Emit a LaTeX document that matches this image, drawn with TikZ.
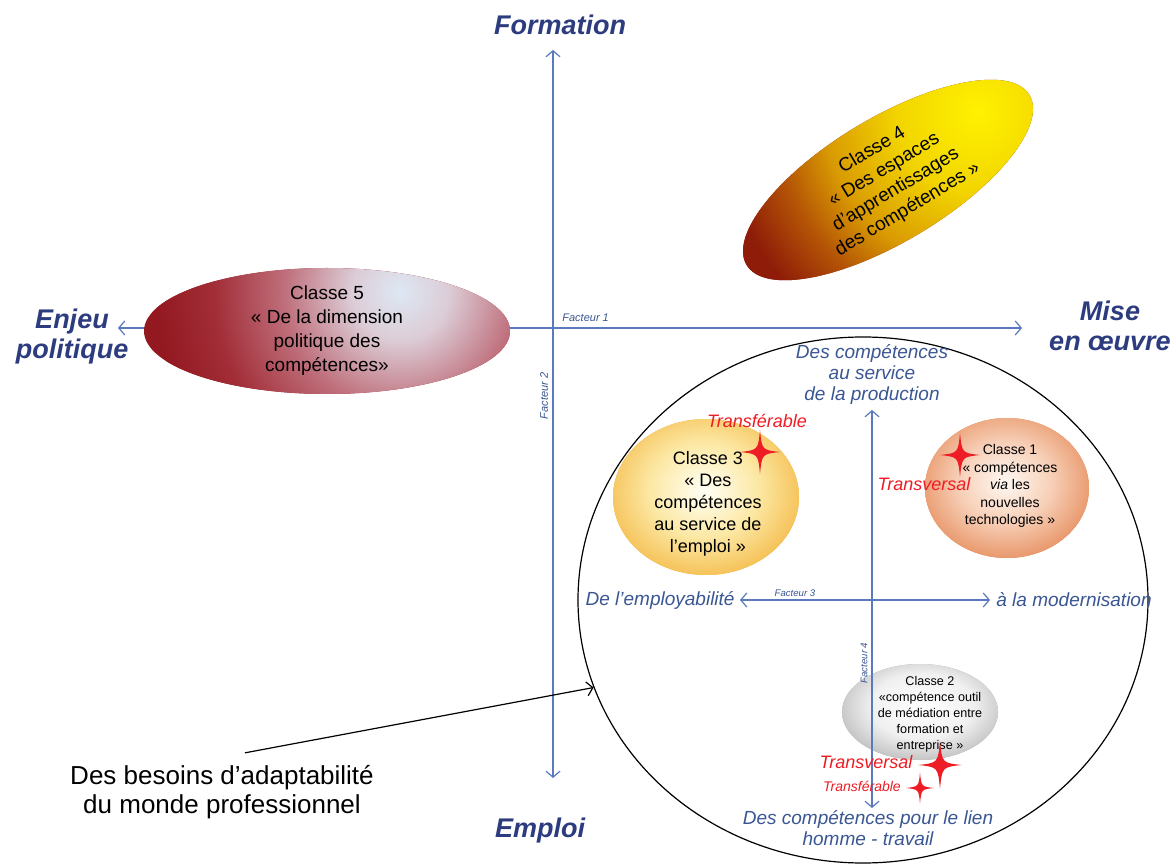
\documentclass[tikz,border=0pt]{standalone}
\usepackage{fontspec}
\setmainfont{Liberation Sans}
\usetikzlibrary{shapes.geometric,arrows.meta,calc}

\definecolor{axisblue}{HTML}{5B79BF}
\definecolor{labelblue}{HTML}{3A5693}
\definecolor{headblue}{HTML}{2C3C7E}
\definecolor{starred}{HTML}{EE1C24}
\definecolor{c5a}{HTML}{DDE8F4}
\definecolor{c5b}{HTML}{DCCCD6}
\definecolor{c5c}{HTML}{BE6E7A}
\definecolor{c5d}{HTML}{A22E38}
\definecolor{c5e}{HTML}{931820}
\definecolor{c4a}{HTML}{FFF200}
\definecolor{c4b}{HTML}{F2D400}
\definecolor{c4c}{HTML}{D99A02}
\definecolor{c4d}{HTML}{B45406}
\definecolor{c4e}{HTML}{8E1C08}
\definecolor{c3a}{HTML}{FFFFF6}
\definecolor{c3b}{HTML}{FCE8A4}
\definecolor{c3c}{HTML}{F1AC2C}
\definecolor{c1a}{HTML}{FFF8F3}
\definecolor{c1b}{HTML}{F7D0B8}
\definecolor{c1c}{HTML}{E3834F}
\definecolor{c2a}{HTML}{FFFFFF}
\definecolor{c2b}{HTML}{F0F0F0}
\definecolor{c2c}{HTML}{A9A9A9}

\pgfdeclareradialshading{shadeCfive}{\pgfpoint{0bp}{0bp}}{color(0bp)=(c5a); color(5bp)=(c5b); color(12bp)=(c5c); color(19bp)=(c5d); color(25bp)=(c5e); color(50bp)=(c5e)}
\pgfdeclareradialshading{shadeCfour}{\pgfpoint{0bp}{0bp}}{color(0bp)=(c4a); color(6.2bp)=(c4b); color(11.6bp)=(c4c); color(15.4bp)=(c4d); color(19.5bp)=(c4e); color(50bp)=(c4e)}
\pgfdeclareradialshading{shadeCthree}{\pgfpoint{0bp}{0bp}}{color(0bp)=(c3a); color(11bp)=(c3b); color(25bp)=(c3c); color(50bp)=(c3c)}
\pgfdeclareradialshading{shadeCone}{\pgfpoint{0bp}{0bp}}{color(0bp)=(c1a); color(11bp)=(c1b); color(25bp)=(c1c); color(50bp)=(c1c)}
\pgfdeclareradialshading{shadeCtwo}{\pgfpoint{0bp}{0bp}}{color(0bp)=(c2a); color(12bp)=(c2b); color(25bp)=(c2c); color(50bp)=(c2c)}

\tikzset{
  >={Straight Barb[length=3pt,width=7pt]},
  axis/.style={draw=axisblue, line width=0.6pt},
  head/.style={font=\bfseries\itshape\fontsize{13.5}{15}\selectfont, text=headblue, align=center, inner sep=0pt},
  pole/.style={font=\itshape\fontsize{9.5}{10.5}\selectfont, text=labelblue, align=center, inner sep=0pt},
  fact/.style={font=\itshape\fontsize{5.5}{6}\selectfont, text=labelblue, inner sep=0pt},
  classe/.style={ellipse, align=center, inner sep=0pt, text=black},
  redlab/.style={font=\itshape\fontsize{9}{10}\selectfont, text=starred, inner sep=0pt},
  etoile/.pic={\fill[starred] (0,-22) .. controls (2,-2) .. (20,0) .. controls (2,2) .. (0,22) .. controls (-2,2) .. (-20,0) .. controls (-2,-2) .. (0,-22) -- cycle;}
}

\begin{document}
\begin{tikzpicture}[x=0.5pt,y=-0.5pt]
\fill[white] (0,0) rectangle (1173,865);
\useasboundingbox (0,0) rectangle (1173,865);

% Facteur 1 axis (behind Classe 5)
\coordinate (f1w) at (118,328);
\coordinate (f1e) at (1022,328);
\draw[axis,<->] (f1w) -- (f1e);

% Facteur 2 axis
\coordinate (f2n) at (553,50);
\coordinate (f2s) at (553,778);
\draw[axis,<->] (f2n) -- (f2s);

% Classe 5
\begin{scope}
  \clip (327,331) ellipse (91.5pt and 31.5pt);
  \fill[c5e] (327,331) ellipse (92pt and 32pt);
  \shade[shading=shadeCfive] (400,292) circle (122pt);
\end{scope}
\node[classe, minimum width=183pt, minimum height=63pt, font=\fontsize{9.5}{12}\selectfont] (c5) at (327,331)
  {Classe 5\\« De la dimension\\politique des\\compétences»};

% Classe 4
\begin{scope}[rotate around={31:(888,180)}]
  \clip (888,180) ellipse (82.5pt and 31pt);
  \fill[c4e] (888,180) ellipse (83pt and 32pt);
  \shade[shading=shadeCfour] (1000,168) circle (145pt);
\end{scope}
\node[classe, rotate=31, minimum width=165pt, minimum height=62pt, font=\fontsize{9.5}{11.5}\selectfont] (c4) at (890,180)
  {Classe 4\\« Des espaces\\d'apprentissages\\des compétences »};

% big circle
\node[draw=black, line width=0.6pt, ellipse, minimum width=285pt, minimum height=263pt] (cercle) at (863,600) {};

% Classe 3
\begin{scope}
  \clip (706,497) ellipse (46.5pt and 39pt);
  \fill[c3c] (706,497) ellipse (47pt and 40pt);
  \shade[shading=shadeCthree] (704,490) ellipse (62pt and 54pt);
\end{scope}
\node[classe, minimum width=93pt, minimum height=78pt, font=\fontsize{9}{11}\selectfont] (c3) at (708,504)
  {Classe 3\\« Des\\compétences\\au service de\\l'emploi »};

% Classe 1
\begin{scope}
  \clip (1007,488) ellipse (41pt and 35pt);
  \fill[c1c] (1007,488) ellipse (42pt and 36pt);
  \shade[shading=shadeCone] (1005,482) ellipse (52pt and 45pt);
\end{scope}
\node[classe, minimum width=82pt, minimum height=70pt, font=\fontsize{7}{8.7}\selectfont] (c1) at (1010,486)
  {Classe 1\\« compétences\\\textit{via} les\\nouvelles\\technologies »};

% Classe 2
\begin{scope}
  \clip (920,712) ellipse (39pt and 24pt);
  \fill[c2c] (920,712) ellipse (40pt and 25pt);
  \shade[shading=shadeCtwo] (922,706) ellipse (53pt and 34pt);
\end{scope}
\node[classe, minimum width=78pt, minimum height=48pt, font=\fontsize{6.3}{8}\selectfont] (c2) at (930,714)
  {Classe 2\\«compétence outil\\de médiation entre\\formation et\\entreprise »};

% Facteur 3 and 4 axes
\coordinate (f3w) at (740,600);
\coordinate (f3e) at (990,600);
\draw[axis,<->] (f3w) -- (f3e);
\coordinate (f4n) at (872,410);
\coordinate (f4s) at (872,808);
\draw[axis,<->] (f4n) -- (f4s);

% axis labels
\node[head] (formation) at (560,25) {Formation};
\node[head] (emploi) at (540,831) {Emploi};
\node[head] (enjeu) at (72,337) {Enjeu\\politique};
\node[head] (mise) at (1110,326) {Mise\\en œuvre};
\node[fact, anchor=west] (fa1) at (562,318) {Facteur 1};
\node[fact, rotate=90] (fa2) at (544,396) {Facteur 2};
\node[fact, font=\itshape\fontsize{4.8}{5}\selectfont] (fa3) at (795,593) {Facteur 3};
\node[fact, font=\itshape\fontsize{4.8}{5}\selectfont, rotate=90] (fa4) at (864,663) {Facteur 4};

\node[pole] (prod) at (872,374) {Des compétences\\au service\\de la production};
\node[pole] (lien) at (868,828) {Des compétences pour le lien\\homme - travail};
\node[pole, anchor=east] (employ) at (735,600) {De l'employabilité};
\node[pole, anchor=west] (moder) at (996,600) {à la modernisation};

% red labels and stars
\node[redlab] (tr3) at (757,421) {Transférable};
\pic at (760,452) {etoile};
\node[redlab] (tv1) at (924,484) {Transversal};
\pic at (960,455) {etoile};
\node[redlab] (tv2) at (866,762) {Transversal};
\pic[scale=1.08] at (940,765) {etoile};
\node[redlab, font=\itshape\fontsize{7}{8}\selectfont] (tr2) at (862,786) {Transférable};
\pic[scale=0.7] at (920,788) {etoile};

% besoins
\node[align=center, font=\fontsize{13}{14.5}\selectfont, inner sep=2pt] (besoins) at (222,792)
  {Des besoins d’adaptabilité\\du monde professionnel};
\draw[line width=0.6pt, ->] ($(besoins.north)+(23,-8)$) -- (cercle.198.6);
\end{tikzpicture}
\end{document}
